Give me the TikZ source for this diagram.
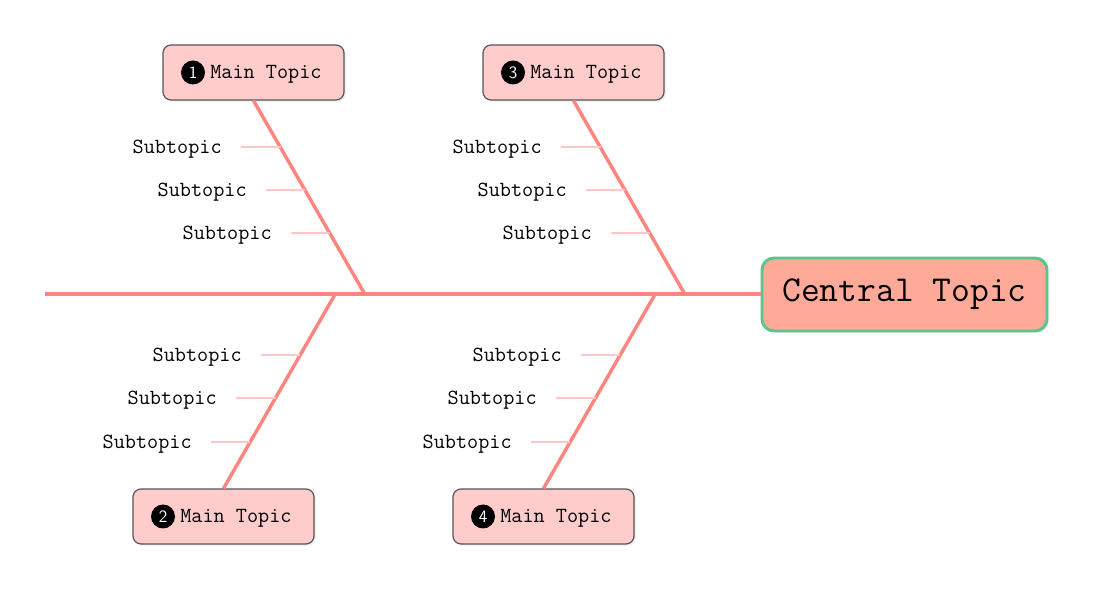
\documentclass[tikz,border=0pt]{standalone}
\usepackage{fontspec}
\usetikzlibrary{shadows}
\definecolor{bonec}{RGB}{255,133,128}
\definecolor{tickc}{RGB}{255,200,200}
\definecolor{mainfill}{RGB}{255,204,204}
\definecolor{mainborder}{RGB}{85,85,85}
\definecolor{cfill}{RGB}{255,170,153}
\definecolor{cborder}{RGB}{90,196,140}
\begin{document}
\begin{tikzpicture}[x=0.75pt,y=-0.75pt,
  mainbox/.style={draw=mainborder, line width=0.9pt, fill=mainfill, rounded corners=6pt,
    minimum width=135.75pt, minimum height=41.25pt, inner sep=0pt,
    drop shadow={opacity=0.12, shadow xshift=1.5pt, shadow yshift=-1.5pt}},
  central/.style={draw=cborder, line width=2.2pt, fill=cfill, rounded corners=9pt,
    minimum width=213.75pt, minimum height=54.75pt, inner sep=0pt,
    font=\ttfamily\fontsize{27.4}{30}\selectfont,
    drop shadow={opacity=0.10, shadow xshift=1.5pt, shadow yshift=-1.5pt}},
  maintext/.style={anchor=west, inner sep=0pt, font=\ttfamily\fontsize{16.2}{19}\selectfont},
  subtext/.style={anchor=east, inner sep=0pt, font=\ttfamily\fontsize{16.2}{19}\selectfont},
  badge/.style={circle, fill=black, text=white, minimum size=18pt, inner sep=0pt,
    font=\sffamily\fontsize{13}{13}\selectfont},
  spine/.style={draw=bonec, line width=3pt},
  bonestyle/.style={draw=bonec, line width=2.6pt},
  tickstyle/.style={draw=tickc, line width=2pt}
]
\useasboundingbox (0,0) rectangle (1093,605);

% central topic
\node[central] (c) at (904.5,294.5) {\raisebox{-1.5pt}{Central Topic}};

% joints on spine
\coordinate (j1) at (365,294.5);
\coordinate (j2) at (335,294.5);
\coordinate (j3) at (685,294.5);
\coordinate (j4) at (655,294.5);
\coordinate (tail) at (45,294.5);

% main topic boxes
\node[mainbox] (m1) at (253.5,72.5) {};
\node[mainbox] (m3) at (573.5,72.5) {};
\node[mainbox] (m2) at (223.5,516.5) {};
\node[mainbox] (m4) at (543.5,516.5) {};

% bones
\draw[bonestyle] (m1.south) -- (j1);
\draw[bonestyle] (m3.south) -- (j3);
\draw[bonestyle] (m2.north) -- (j2);
\draw[bonestyle] (m4.north) -- (j4);
\draw[spine] (tail) -- (c.west);

% main topic labels
\node[badge] (b1) at (193,72.5) {1};
\node[maintext] (t1) at (210,74) {Main Topic};
\node[badge] (b3) at (513,72.5) {3};
\node[maintext] (t3) at (530,74) {Main Topic};
\node[badge] (b2) at (163,516.5) {2};
\node[maintext] (t2) at (180,518) {Main Topic};
\node[badge] (b4) at (483,516.5) {4};
\node[maintext] (t4) at (500,518) {Main Topic};

% subtopics of 1
\node[subtext] (s11) at (222,149) {Subtopic};
\node[subtext] (s12) at (247,192) {Subtopic};
\node[subtext] (s13) at (272,235) {Subtopic};
\coordinate (e11) at (280.5,147);
\coordinate (e12) at (305.2,190);
\coordinate (e13) at (329.9,233);
\draw[tickstyle] ([xshift=14.25pt]s11.east |- e11) -- (e11);
\draw[tickstyle] ([xshift=14.25pt]s12.east |- e12) -- (e12);
\draw[tickstyle] ([xshift=14.25pt]s13.east |- e13) -- (e13);

% subtopics of 3
\node[subtext] (s31) at (542,149) {Subtopic};
\node[subtext] (s32) at (567,192) {Subtopic};
\node[subtext] (s33) at (592,235) {Subtopic};
\coordinate (e31) at (600.5,147);
\coordinate (e32) at (625.2,190);
\coordinate (e33) at (649.9,233);
\draw[tickstyle] ([xshift=14.25pt]s31.east |- e31) -- (e31);
\draw[tickstyle] ([xshift=14.25pt]s32.east |- e32) -- (e32);
\draw[tickstyle] ([xshift=14.25pt]s33.east |- e33) -- (e33);

% subtopics of 2
\node[subtext] (s21) at (242,357) {Subtopic};
\node[subtext] (s22) at (217,400) {Subtopic};
\node[subtext] (s23) at (192,444) {Subtopic};
\coordinate (e21) at (300.1,355);
\coordinate (e22) at (275.5,398);
\coordinate (e23) at (250.4,442);
\draw[tickstyle] ([xshift=14.25pt]s21.east |- e21) -- (e21);
\draw[tickstyle] ([xshift=14.25pt]s22.east |- e22) -- (e22);
\draw[tickstyle] ([xshift=14.25pt]s23.east |- e23) -- (e23);

% subtopics of 4
\node[subtext] (s41) at (562,357) {Subtopic};
\node[subtext] (s42) at (537,400) {Subtopic};
\node[subtext] (s43) at (512,444) {Subtopic};
\coordinate (e41) at (620.1,355);
\coordinate (e42) at (595.5,398);
\coordinate (e43) at (570.4,442);
\draw[tickstyle] ([xshift=14.25pt]s41.east |- e41) -- (e41);
\draw[tickstyle] ([xshift=14.25pt]s42.east |- e42) -- (e42);
\draw[tickstyle] ([xshift=14.25pt]s43.east |- e43) -- (e43);
\end{tikzpicture}
\end{document}
